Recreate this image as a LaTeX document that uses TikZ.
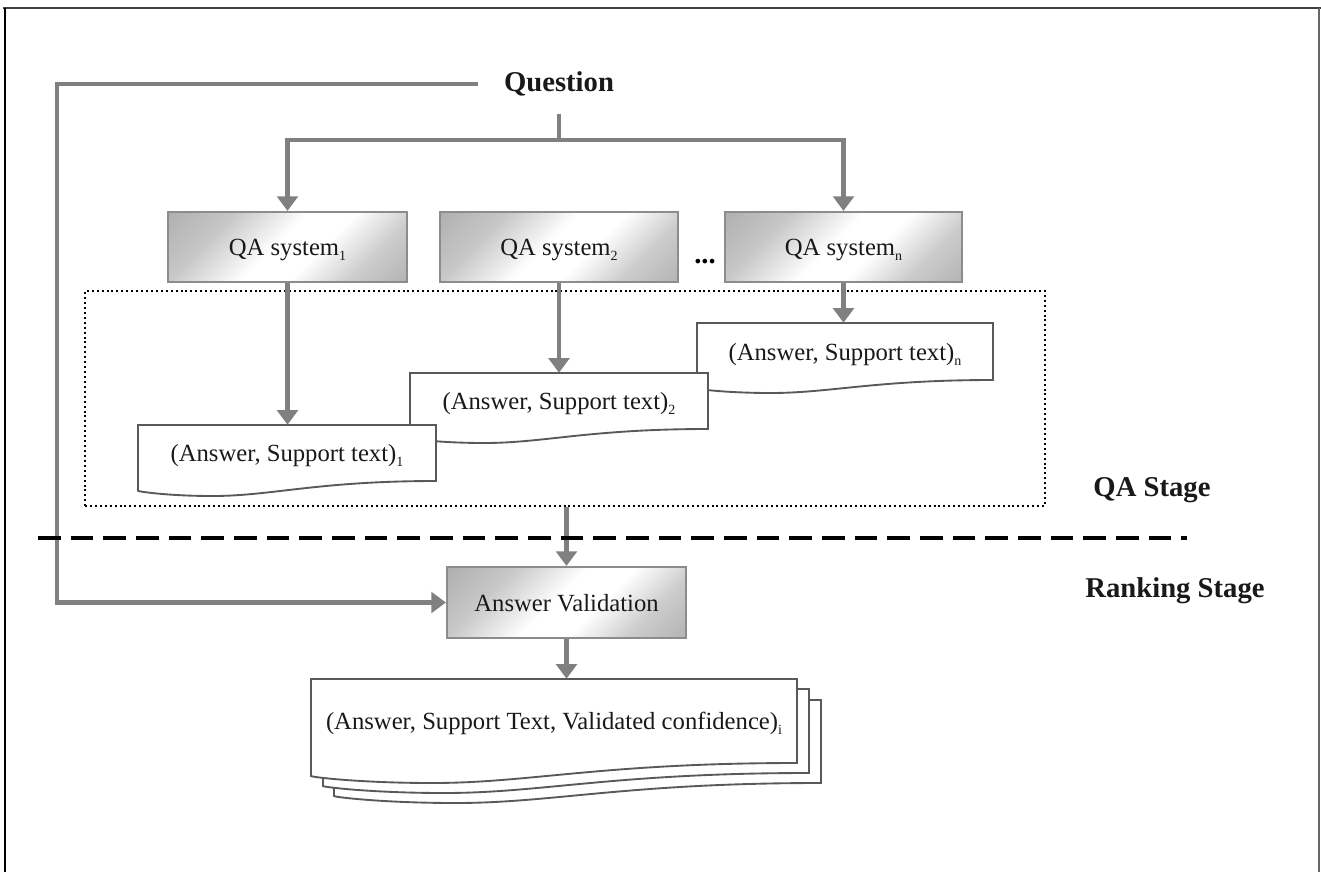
\documentclass[tikz,border=0pt]{standalone}
\usepackage{fontspec}
\setmainfont{Liberation Serif}
\usetikzlibrary{arrows.meta,calc}
\pgfdeclarehorizontalshading{qashade}{100bp}{color(0bp)=(black!40); color(30bp)=(black!22); color(47bp)=(white); color(58bp)=(white); color(72bp)=(black!20); color(100bp)=(black!40)}
\newcommand\sbs[1]{\raisebox{-0.45ex}{\fontsize{10.5}{12}\selectfont #1}}
\tikzset{
 boxsize/.style 2 args={minimum width={#1*0.75pt}, minimum height={#2*0.75pt}},
 qabox/.style={draw=black!45, line width=1.6pt, shade, shading=qashade, shading angle=-45, inner sep=0pt, text depth=0pt, font=\fontsize{18.5}{22}\selectfont, text=black!90},
 docline/.style={draw=black!65, line width=1.4pt, fill=white},
 docnode/.style={inner sep=0pt, text depth=0pt, font=\fontsize{18.5}{22}\selectfont, text=black!90},
 garrow/.style={draw=black!50, line width=3.6pt, -{Triangle[width=15.5pt,length=11pt]}},
 gline/.style={draw=black!50, line width=3.6pt},
 stagelabel/.style={inner sep=0pt, font=\bfseries\fontsize{21.5}{26}\selectfont, text=black!90}
}
% x1, top, x2, bottom-right, amplitude
\newcommand\docoutline[5]{%
 \filldraw[docline] (#1,#2) -- (#3,#2) -- (#3,#4)
  .. controls ({#1+0.6*(#3-#1)},#4) and ({#1+0.45*(#3-#1)},{#4+#5}) .. ({#1+0.25*(#3-#1)},{#4+#5})
  .. controls ({#1+0.1*(#3-#1)},{#4+#5}) and (#1,{#4+0.7*#5}) .. (#1,{#4+0.65*#5}) -- cycle;}
\begin{document}
\begin{tikzpicture}[x=0.75pt,y=-0.75pt]
\useasboundingbox (0,0) rectangle (1321,872);
% frame
\draw[black!75, line width=2.2pt] (3,8) -- (1321,8);
\draw[black, line width=1.1pt] (5,8) -- (5,872);
\draw[black!60, line width=0.9pt] (1319,8) -- (1319,872);

% question
\node[stagelabel] (q) at (559,84) {Question};

% QA systems
\node[qabox, boxsize={239}{70}] (qa1) at (287.5,247) {QA system\sbs{1}};
\node[qabox, boxsize={238}{70}] (qa2) at (559,247) {QA system\sbs{2}};
\node[qabox, boxsize={237}{70}] (qan) at (843.5,247) {QA system\sbs{n}};
\node[inner sep=0pt, font=\bfseries\fontsize{21.5}{26}\selectfont, anchor=base] (dots) at (705,263) {...};

% QA stage dotted box
\node[draw=black, line width=1.5pt, dash pattern=on 1.5pt off 2.2pt, boxsize={960}{215}, inner sep=0pt] (stagebox) at (565,398.5) {};

% documents
\docoutline{697}{323}{993}{380}{13}
\node[docnode, boxsize={296}{57}] (dn) at (845,351.5) {(Answer, Support text)\sbs{n}};
\docoutline{410}{373}{708}{429}{14}
\node[docnode, boxsize={298}{56}] (d2) at (559,401) {(Answer, Support text)\sbs{2}};
\docoutline{138}{425}{436}{481}{15}
\node[docnode, boxsize={298}{56}] (d1) at (287,453) {(Answer, Support text)\sbs{1}};

% answer validation
\node[qabox, boxsize={239}{71}] (av) at (566.5,602.5) {Answer Validation};

% result stack
\docoutline{334}{700}{821}{783}{20}
\docoutline{323}{689}{809}{773}{20}
\docoutline{311}{679}{797}{763}{20}
\node[docnode, boxsize={486}{84}] (res) at (554,721) {(Answer, Support Text, Validated confidence)\sbs{i}};

% stage labels and separator
\node[stagelabel] (qastage) at (1152,490) {QA Stage};
\node[stagelabel] (rankstage) at (1175,591) {Ranking Stage};
\coordinate (sepL) at (38,538);
\coordinate (sepR) at (1187,538);

% connectors
\coordinate (split) at (559,140);
\coordinate (fb) at (57,84);
\draw[gline] ($(q.south)+(0,17)$) -- (split);
\draw[garrow] (split) -| (qa1.north);
\draw[garrow] (split) -| (qan.north);
\draw[garrow] ($(q.west)+(-26,0)$) -- (fb) |- (av.west);
\draw[garrow] (qa1.south) -- (qa1.south |- d1.north);
\draw[garrow] (qa2.south) -- (qa2.south |- d2.north);
\draw[garrow] (qan.south) -- (qan.south |- dn.north);
\draw[garrow] (av.north |- stagebox.south) -- (av.north);
\draw[garrow] (av.south) -- (av.south |- res.north);
\draw[black, line width=2.4pt, dash pattern=on 17pt off 7.5pt] (sepL) -- (sepR);
\end{tikzpicture}
\end{document}
